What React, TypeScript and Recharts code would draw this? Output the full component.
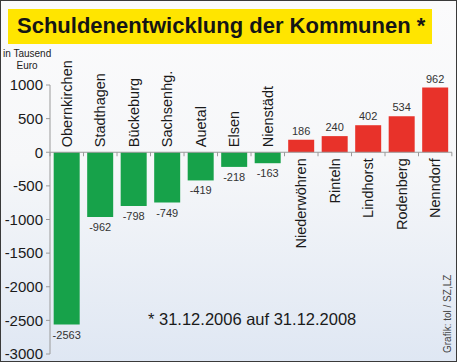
import { BarChart, Bar, XAxis, YAxis, ReferenceLine, LabelList, Cell } from 'recharts'

const KOMMUNEN = [
  'Obernkirchen',
  'Stadthagen',
  'Bückeburg',
  'Sachsenhg.',
  'Auetal',
  'Elsen',
  'Nienstädt',
  'Niederwöhren',
  'Rinteln',
  'Lindhorst',
  'Rodenberg',
  'Nenndorf',
]
const VERAENDERUNG = [-2563, -962, -798, -749, -419, -218, -163, 186, 240, 402, 534, 962]
const Y_TICKS = [1000, 500, 0, -500, -1000, -1500, -2000, -2500, -3000]

const FONT = '"Liberation Sans", Arial, Helvetica, sans-serif'
const GREEN = '#17a24a'
const RED = '#e8322a'
const AXIS = '#9a9a9a'
const GAP = 0.11

const data = KOMMUNEN.map((name, i) => ({ name, wert: VERAENDERUNG[i] }))

// draws value, rotated name and the little axis ticks between bars
function BarLabels(props: any) {
  const { viewBox, index } = props
  if (!viewBox) return null
  const { x, y, width, height } = viewBox
  const value = VERAENDERUNG[index]
  const top = Math.min(y, y + height)
  const bottom = Math.max(y, y + height)
  const zero = value >= 0 ? bottom : top
  const end = value >= 0 ? top : bottom
  const cx = x + width / 2
  const band = width / (1 - 2 * GAP)
  const left = x - band * GAP
  const right = x + width + band * GAP
  const ny = value >= 0 ? zero + 6 : zero - 5

  return (
    <g>
      <line x1={left} x2={left} y1={zero} y2={zero + 4} stroke={AXIS} />
      {index === KOMMUNEN.length - 1 && (
        <line x1={right} x2={right} y1={zero} y2={zero + 4} stroke={AXIS} />
      )}
      <text
        x={cx}
        y={value >= 0 ? end - 5 : end + 14}
        textAnchor="middle"
        fontSize={11}
        fill="#333"
        fontFamily={FONT}
      >
        {value}
      </text>
      <text
        x={cx + 5}
        y={ny}
        transform={`rotate(-90 ${cx + 5} ${ny})`}
        textAnchor={value >= 0 ? 'end' : 'start'}
        fontSize={14.5}
        fill="#1a1a1a"
        fontFamily={FONT}
      >
        {KOMMUNEN[index]}
      </text>
    </g>
  )
}

export default function App() {
  return (
    <div
      style={{
        position: 'relative',
        width: 457,
        height: 362,
        boxSizing: 'border-box',
        border: '1px solid #3a3a3a',
        background: 'linear-gradient(to bottom, #fbfbfc 0%, #f6f7f9 45%, #dfe7f3 100%)',
        fontFamily: FONT,
        overflow: 'hidden',
      }}
    >
      <style>{'body{margin:0}'}</style>
      <div
        style={{
          position: 'absolute',
          left: 7,
          top: 8,
          width: 424,
          height: 35,
          background: '#ffe500',
          color: '#151515',
          fontWeight: 'bold',
          fontSize: 22,
          lineHeight: '33px',
          paddingLeft: 9,
          boxSizing: 'border-box',
          whiteSpace: 'nowrap',
        }}
      >
        Schuldenentwicklung der Kommunen *
      </div>
      <div
        style={{
          position: 'absolute',
          left: 2,
          top: 47,
          fontSize: 10,
          lineHeight: '12px',
          color: '#222',
          textAlign: 'center',
        }}
      >
        in Tausend
        <br />
        Euro
      </div>
      <div style={{ position: 'absolute', left: -1, top: -1 }}>
        <BarChart
          width={457}
          height={362}
          data={data}
          margin={{ top: 85, right: 5, bottom: 8, left: 0 }}
          barCategoryGap={`${GAP * 100}%`}
        >
          <XAxis dataKey="name" hide />
          <YAxis
            width={50}
            domain={[-3000, 1000]}
            ticks={Y_TICKS}
            interval={0}
            stroke={AXIS}
            tickSize={4}
            tickMargin={3}
            tick={{ fontSize: 15, fill: '#1a1a1a', fontFamily: FONT }}
          />
          <ReferenceLine y={0} stroke={AXIS} />
          <Bar dataKey="wert" isAnimationActive={false}>
            {data.map((d) => (
              <Cell key={d.name} fill={d.wert >= 0 ? RED : GREEN} />
            ))}
            <LabelList dataKey="wert" content={BarLabels} />
          </Bar>
        </BarChart>
      </div>
      <div
        style={{
          position: 'absolute',
          left: 147,
          top: 309,
          fontSize: 16.5,
          color: '#1a1a1a',
          whiteSpace: 'nowrap',
        }}
      >
        * 31.12.2006 auf 31.12.2008
      </div>
      <div
        style={{
          position: 'absolute',
          left: 441,
          top: 352,
          fontSize: 10,
          color: '#444',
          whiteSpace: 'nowrap',
          transform: 'rotate(-90deg)',
          transformOrigin: '0 0',
        }}
      >
        Grafik: tol / SZ,LZ
      </div>
    </div>
  )
}
